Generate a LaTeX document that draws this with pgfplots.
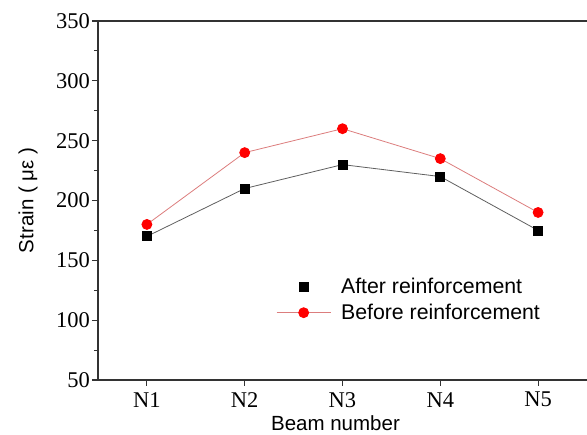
\documentclass[border=0pt]{standalone}
\usepackage{pgfplots}
\pgfplotsset{compat=1.18}
\usepackage{fontspec}
\setmainfont{Liberation Serif}
\newfontfamily\arial{Liberation Sans}
\definecolor{redline}{RGB}{220,125,125}
\definecolor{grayline}{RGB}{95,95,95}
\begin{document}
\begin{tikzpicture}
\begin{axis}[
  scale only axis,
  width=489pt, height=359pt,
  at={(0,0)}, anchor=south west,
  xmin=0.5, xmax=5.5,
  ymin=50, ymax=350,
  xtick={1,2,3,4,5},
  xticklabels={N1,N2,N3,N4,N5},
  ytick={50,100,150,200,250,300,350},
  minor ytick={75,125,175,225,275,325},
  axis x line*=bottom,
  axis y line*=left,
  axis line style={line width=1.3pt, black!80},
  tick style={line width=1.1pt, black!80},
  tick align=outside,
  major tick length=6pt,
  minor tick length=4pt,
  /pgf/number format/assume math mode=true,
  tick label style={font=\fontsize{22.5}{27}\selectfont},
  yticklabel style={inner sep=2pt},
  xticklabel style={inner sep=2pt, yshift=-4pt},
  xlabel={Beam number},
  ylabel={Strain ( με )},
  every axis x label/.style={at={(axis description cs:0.5,0)}, anchor=center, yshift=-43pt, xshift=-7pt, font=\arial\fontsize{20.5}{24}\selectfont},
  every axis y label/.style={at={(axis description cs:0,0.5)}, rotate=90, anchor=center, yshift=70pt, font=\arial\fontsize{20.5}{24}\selectfont},
  clip=false,
  legend cell align=left,
  legend style={draw=none, fill=none, at={(rel axis cs:0.358,0.295)}, anchor=north west,
    font=\arial\fontsize{21.3}{25}\selectfont, row sep=5pt},
  legend image code/.code={\draw[mark repeat=2,mark phase=2,#1] plot coordinates {(0pt,0pt) (27pt,0pt) (54pt,0pt)}; \path (62pt,0pt);},
]
\draw[line width=1.3pt, black!80] (rel axis cs:0,1) -- (rel axis cs:1.02,1);
\addplot[grayline, line width=0.8pt, mark=square*, mark size=4.5pt, mark options={fill=black, draw=black, solid}, forget plot]
  coordinates {(1,170) (2,210) (3,230) (4,220) (5,175)};
\addplot[redline, line width=0.8pt, mark=*, mark size=5pt, mark options={fill=red, draw=red}, forget plot]
  coordinates {(1,180) (2,240) (3,260) (4,235) (5,190)};
\addlegendimage{only marks, mark=square*, mark size=4.5pt, mark options={fill=black, draw=black}}
\addlegendentry{After reinforcement}
\addlegendimage{redline, line width=0.8pt, mark=*, mark size=5pt, mark options={fill=red, draw=red}}
\addlegendentry{Before reinforcement}
\end{axis}
\pgfresetboundingbox
\path (-98pt,-55pt) rectangle (489pt,380pt);
\end{tikzpicture}
\end{document}
